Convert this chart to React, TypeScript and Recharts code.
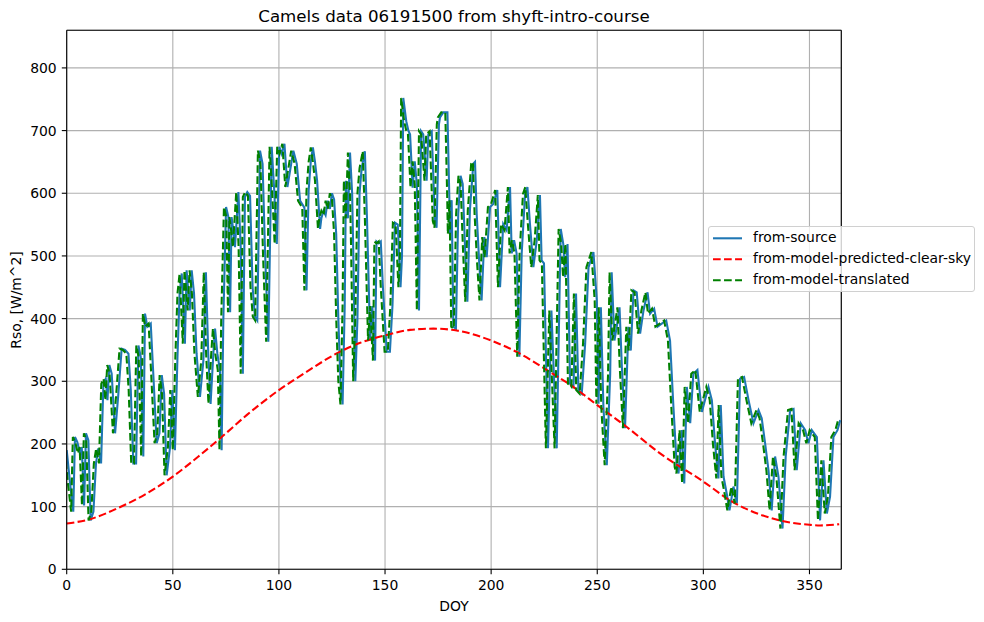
import React from 'react';
import { LineChart, Line, XAxis, YAxis, CartesianGrid, Legend, ReferenceLine } from 'recharts';

const doy = [
  0, 1.6, 3.1, 3.9, 5, 6.3, 7.1, 8.2, 9.1, 10.2, 11.3, 12.6, 13.8, 14.9, 16.2, 17.3, 18.4, 19.2, 20.1, 21.2, 22.8,
  24.3, 25.9, 27.5, 29.1, 30.2, 31.4, 32.7, 33.8, 34.9, 36.1, 36.9, 38, 39.6, 40.8, 42.4, 43.7, 44.8, 45.9, 47.1,
  48.7, 49.8, 51, 52.2, 53.2, 54.2, 55.7, 56.5, 58, 58.9, 60, 61.2, 62.8, 64.4, 65.6, 66.7, 67.8, 69.1, 69.9, 71,
  72.2, 73, 73.8, 75.1, 76.2, 77, 77.7, 78.5, 79.3, 80.9, 82, 83, 84, 85.1, 86.4, 87.6, 88.7, 89.8, 91.1, 92.3, 93.5,
  95, 96.6, 97.7, 99, 100.2, 101.3, 102.6, 104, 106.8, 108.4, 110, 112, 113, 114, 115, 116, 117, 118, 119.4, 120,
  121, 122, 123, 124, 125, 126, 127, 128, 129, 130, 131, 131.6, 132.5, 133.5, 134.5, 135, 136, 137, 138, 139,
  140.5, 141.5, 142.5, 143, 144, 145.3, 146, 147, 148, 149, 150.8, 152.3, 153.5, 154.7, 156, 157.3, 158, 158.6,
  160, 161, 161.8, 162.5, 163, 164, 165, 166, 167, 168, 169.6, 170.4, 172, 173.5, 174.3, 175.4, 175.9, 177.5,
  179.4, 180.3, 180.6, 181.4, 182.2, 183.4, 184.5, 185.6, 186.6, 187.7, 188.8, 190, 191.6, 192.4, 193.2, 194.4,
  195.5, 196.8, 197.9, 199.5, 201, 202.9, 204.2, 205.7, 207.3, 208.9, 209.7, 210.8, 212, 213.3, 214.4, 216, 217.1,
  218.3, 219.9, 221.5, 223, 223.8, 224.9, 226.8, 228.4, 230.9, 232.8, 234, 234.9, 236, 237.2, 238.8, 240, 241.1,
  242.7, 244.3, 245.9, 248.2, 249.8, 250.6, 251.7, 252.9, 254.5, 256.1, 256.8, 258.1, 259.2, 260.5, 261.6, 263.1,
  264.7, 265.8, 267.1, 268.6, 270.2, 271.8, 273.7, 274.9, 276.8, 278.4, 280.4, 282.5, 284.3, 285.9, 287.5, 288.3,
  289.8, 291, 292.2, 293.8, 295.3, 297.2, 299.3, 302.4, 304, 305.5, 307.1, 308.2, 309.5, 311, 312.3, 314.2, 315.8,
  317.3, 319.2, 321.3, 323.6, 326, 327.5, 329.1, 330.7, 332.2, 333.8, 335.4, 337.3, 338.8, 340.9, 342.5, 344, 345.9,
  348, 349.5, 351.1, 353.5, 355, 356.6, 358.2, 359.7, 361.3, 363.2, 364.5,
];

const fromSource = [
  190, 137, 92, 211, 203, 185, 195, 102, 217, 206, 78, 92, 169, 193, 169, 296, 304, 270, 326, 312, 217,
  278, 352, 350, 344, 286, 169, 169, 357, 339, 180, 408, 387, 392, 312, 201, 217, 310, 280, 150,
  195, 286, 190, 339, 440, 472, 360, 477, 413, 477, 440, 344, 275, 333, 474, 344, 264, 344, 384, 344,
  318, 190, 397, 578, 562, 410, 562, 541, 514, 602, 514, 312, 594, 602, 596, 450, 403, 397, 668, 647, 503,
  363, 674, 610, 519, 674, 663, 679, 610, 668, 647, 588, 577, 445, 604, 650, 673, 650, 620, 543, 560,
  572, 565, 588, 575, 600, 590, 535, 400, 300, 263, 420, 620, 560, 665, 600, 514, 300, 400, 600, 640,
  667, 560, 430, 365, 420, 333, 523, 520, 523, 450, 347, 347, 420, 553, 550, 450, 500, 752,
  715, 700, 694, 646, 609, 651, 614, 413, 699, 694, 620, 694, 699, 556, 545, 710, 721, 729,
  729, 594, 535, 589, 387, 384, 567, 628, 615, 514, 427, 573, 647, 650, 567, 488,
  429, 530, 498, 578, 583, 605, 450, 551, 541, 610, 504, 525, 504, 339, 504, 599, 610,
  551, 482, 525, 597, 493, 488, 193, 413, 193, 543, 519, 466, 519, 296, 291, 440, 286,
  280, 360, 482, 506, 429, 264, 418, 259, 166, 312, 474, 365, 387, 418, 323, 225,
  387, 349, 445, 442, 376, 413, 442, 408, 416, 387, 392, 397, 365, 259, 163, 153,
  222, 137, 291, 233, 312, 318, 251, 291, 270, 201, 145, 262, 148, 121, 94, 132, 105,
  304, 307, 270, 233, 254, 241, 201, 158, 94, 180, 148, 65, 180, 254, 256, 158, 233,
  222, 201, 222, 211, 78, 174, 89, 116, 211, 222, 238,
];

const clearSkyDoy = [0, 11, 25, 37.7, 50, 62.8, 73, 84.8, 100, 113, 127, 138, 149.7, 161.8, 172.8, 183.8, 200, 213.6, 226.2, 238.7, 250, 263.9, 279.6, 300, 312.6, 336, 350, 355, 364];
const fromModelClearSky = [73, 80, 99, 121, 148, 182, 211, 246, 286, 315, 344, 361, 373, 382, 384, 381, 365, 344, 318, 291, 262, 227, 185, 140, 110, 78, 71, 70, 72];

const translationLagDays = 1;

const xTicks = [0, 50, 100, 150, 200, 250, 300, 350];
const yTicks = [0, 100, 200, 300, 400, 500, 600, 700, 800];
const xDomain: [number, number] = [0, 365];
const yDomain: [number, number] = [0, 860];

const titleText = 'Camels data 06191500 from shyft-intro-course';
const xLabel = 'DOY';
const yLabel = 'Rso, [W/m^2]';

const sourceData = doy.map((d, i) => ({ doy: d, rso: fromSource[i] }));
const translatedData = doy.map((d, i) => ({ doy: d - translationLagDays, rso: fromSource[i] }));
const clearSkyData = clearSkyDoy.map((d, i) => ({ doy: d, rso: fromModelClearSky[i] }));

const FONT = '"DejaVu Sans", sans-serif';
const DASH = '7.7 3.33';

const legendItems = [
  { label: 'from-source', color: '#1f77b4', dash: undefined as string | undefined },
  { label: 'from-model-predicted-clear-sky', color: '#ff0000', dash: DASH },
  { label: 'from-model-translated', color: '#008000', dash: DASH },
];

const LegendBox = () => (
  <div
    style={{
      position: 'relative',
      width: 267,
      height: 66,
      boxSizing: 'border-box',
      border: '1px solid #d0d0d0',
      borderRadius: 3,
      background: 'rgba(255,255,255,0.8)',
      fontFamily: FONT,
      fontSize: 13.9,
      color: '#000',
    }}
  >
    {legendItems.map((it, i) => (
      <div key={it.label} style={{ position: 'absolute', left: 0, top: 1 + i * 21, height: 21, width: 265 }}>
        <svg width={40} height={21} style={{ position: 'absolute', left: 0, top: 0 }}>
          <line x1={4} x2={33} y1={10.3} y2={10.3} stroke={it.color} strokeWidth={2.08} strokeDasharray={it.dash} />
        </svg>
        <span style={{ position: 'absolute', left: 44, top: 1, lineHeight: '17px', whiteSpace: 'nowrap' }}>{it.label}</span>
      </div>
    ))}
  </div>
);

export default function App() {
  return (
    <div style={{ position: 'absolute', left: 0, top: 0, width: 984, height: 622, background: '#fff' }}>
      <LineChart width={984} height={622} margin={{ top: 30.3, right: 142.7, bottom: 22.7, left: 6.7 }}>
        <CartesianGrid stroke="#b0b0b0" strokeWidth={1.1} />
        <XAxis
          dataKey="doy"
          type="number"
          domain={xDomain}
          allowDataOverflow
          ticks={xTicks}
          interval={0}
          height={30}
          tickSize={4.9}
          tickMargin={5.9}
          axisLine={{ stroke: '#000', strokeWidth: 1.1 }}
          tickLine={{ stroke: '#000', strokeWidth: 1.1 }}
          tick={{ fill: '#000', fontSize: 13.9, fontFamily: FONT }}
        />
        <YAxis
          type="number"
          domain={yDomain}
          allowDataOverflow
          ticks={yTicks}
          interval={0}
          width={60}
          tickSize={4.9}
          tickMargin={5.1}
          axisLine={{ stroke: '#000', strokeWidth: 1.1 }}
          tickLine={{ stroke: '#000', strokeWidth: 1.1 }}
          tick={{ fill: '#000', fontSize: 13.9, fontFamily: FONT }}
        />
        <ReferenceLine y={yDomain[1]} stroke="#000" strokeWidth={1.1} />
        <ReferenceLine x={xDomain[1]} stroke="#000" strokeWidth={1.1} />
        <Line
          data={sourceData}
          dataKey="rso"
          name="from-source"
          type="linear"
          stroke="#1f77b4"
          strokeWidth={2.08}
          dot={false}
          activeDot={false}
          isAnimationActive={false}
        />
        <Line
          data={clearSkyData}
          dataKey="rso"
          name="from-model-predicted-clear-sky"
          type="monotone"
          stroke="#ff0000"
          strokeWidth={2.08}
          strokeDasharray={DASH}
          dot={false}
          activeDot={false}
          isAnimationActive={false}
        />
        <Line
          data={translatedData}
          dataKey="rso"
          name="from-model-translated"
          type="linear"
          stroke="#008000"
          strokeWidth={2.08}
          strokeDasharray={DASH}
          dot={false}
          activeDot={false}
          isAnimationActive={false}
        />
        <Legend
          layout="vertical"
          align="center"
          verticalAlign="middle"
          content={() => <LegendBox />}
          wrapperStyle={{ position: 'absolute', left: 708, top: 226, width: 267, height: 66 }}
        />
      </LineChart>
      <svg
        width={984}
        height={622}
        style={{ position: 'absolute', left: 0, top: 0, pointerEvents: 'none' }}
        fontFamily={FONT}
      >
        <text x={454} y={22} textAnchor="middle" fontSize={16.67} fill="#000">
          {titleText}
        </text>
        <text x={454} y={611} textAnchor="middle" fontSize={13.9} fill="#000">
          {xLabel}
        </text>
        <text x={21} y={300} textAnchor="middle" fontSize={13.9} fill="#000" transform="rotate(-90 21 300)">
          {yLabel}
        </text>
      </svg>
    </div>
  );
}
